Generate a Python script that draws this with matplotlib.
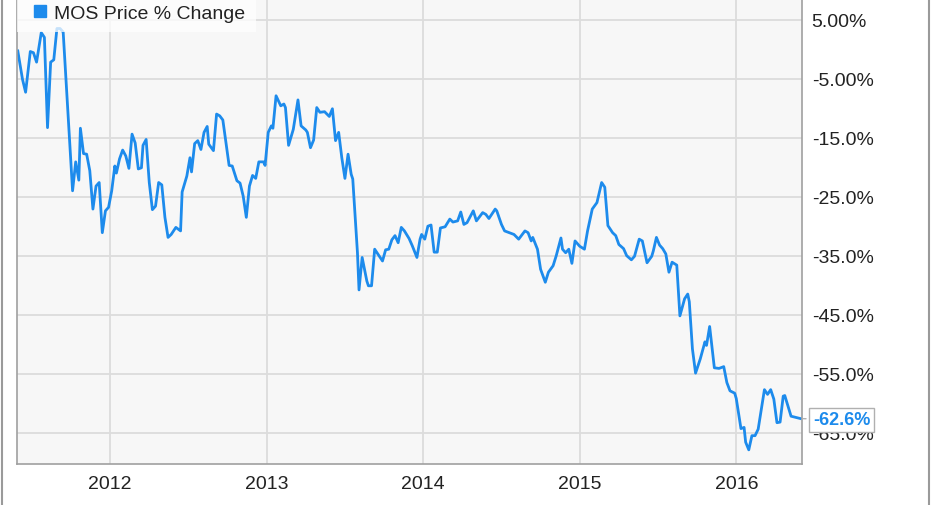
import matplotlib
matplotlib.use("Agg")
import matplotlib.pyplot as plt
from matplotlib.lines import Line2D

plt.rcParams['font.family'] = ['Liberation Sans', 'DejaVu Sans']

# weekly points, x in decimal years, y in % change
years = [
    2011.41, 2011.44, 2011.46, 2011.49, 2011.51, 2011.53, 2011.56, 2011.58, 2011.60, 2011.62,
    2011.64, 2011.66, 2011.68, 2011.70, 2011.76, 2011.78, 2011.80, 2011.81, 2011.83, 2011.85,
    2011.87, 2011.89, 2011.91, 2011.93, 2011.95, 2011.97, 2011.99, 2012.01, 2012.03, 2012.04,
    2012.06, 2012.08, 2012.10, 2012.12, 2012.14, 2012.16, 2012.18, 2012.20, 2012.21, 2012.23,
    2012.25, 2012.27, 2012.29, 2012.31, 2012.33, 2012.35, 2012.37, 2012.39, 2012.42, 2012.45,
    2012.46, 2012.49, 2012.51, 2012.52, 2012.54, 2012.56, 2012.58, 2012.60, 2012.62, 2012.63,
    2012.66, 2012.68, 2012.70, 2012.72, 2012.76, 2012.78, 2012.81, 2012.83, 2012.85, 2012.87,
    2012.89, 2012.91, 2012.93, 2012.95, 2012.98, 2012.99, 2013.01, 2013.03, 2013.04, 2013.06,
    2013.09, 2013.11, 2013.12, 2013.14, 2013.17, 2013.20, 2013.22, 2013.25, 2013.26, 2013.28,
    2013.30, 2013.32, 2013.34, 2013.37, 2013.40, 2013.42, 2013.44, 2013.46, 2013.48, 2013.50,
    2013.52, 2013.54, 2013.55, 2013.58, 2013.59, 2013.61, 2013.64, 2013.65, 2013.67, 2013.69,
    2013.71, 2013.74, 2013.76, 2013.78, 2013.80, 2013.82, 2013.84, 2013.86, 2013.88, 2013.91,
    2013.93, 2013.96, 2013.98, 2013.99, 2014.01, 2014.03, 2014.05, 2014.07, 2014.09, 2014.11,
    2014.14, 2014.17, 2014.19, 2014.22, 2014.24, 2014.26, 2014.28, 2014.32, 2014.34, 2014.38,
    2014.40, 2014.42, 2014.46, 2014.47, 2014.50, 2014.52, 2014.55, 2014.58, 2014.61, 2014.65,
    2014.67, 2014.69, 2014.70, 2014.73, 2014.75, 2014.78, 2014.80, 2014.83, 2014.85, 2014.88,
    2014.89, 2014.91, 2014.93, 2014.95, 2014.97, 2015.00, 2015.03, 2015.05, 2015.08, 2015.11,
    2015.14, 2015.16, 2015.18, 2015.21, 2015.23, 2015.25, 2015.28, 2015.30, 2015.33, 2015.35,
    2015.38, 2015.40, 2015.43, 2015.46, 2015.47, 2015.49, 2015.51, 2015.53, 2015.55, 2015.57,
    2015.59, 2015.62, 2015.64, 2015.67, 2015.69, 2015.70, 2015.72, 2015.74, 2015.77, 2015.80,
    2015.81, 2015.83, 2015.86, 2015.89, 2015.92, 2015.94, 2015.96, 2015.99, 2016.00, 2016.03,
    2016.05, 2016.06, 2016.08, 2016.10, 2016.12, 2016.14, 2016.18, 2016.20, 2016.22, 2016.24,
    2016.26, 2016.28, 2016.30, 2016.31, 2016.35, 2016.38, 2016.41,
]
pct_change = [
    -0.3, -5.1, -7.3, -0.4, -0.6, -2.2, 2.8, 2.0, -13.3, -2.2,
    -1.8, 3.5, 3.5, 2.9, -24.0, -19.1, -22.2, -13.4, -17.7, -17.8,
    -20.6, -27.1, -23.2, -22.6, -31.1, -27.4, -26.8, -24.0, -19.8, -21.0,
    -18.6, -17.1, -18.1, -20.2, -14.4, -15.9, -20.3, -20.1, -16.3, -15.3,
    -22.6, -27.2, -26.6, -22.6, -23.0, -28.5, -31.9, -31.4, -30.2, -30.8,
    -24.2, -21.5, -18.4, -20.8, -16.0, -15.5, -17.0, -14.1, -13.1, -16.1,
    -17.2, -11.0, -11.3, -12.0, -19.7, -19.8, -22.3, -22.7, -24.9, -28.5,
    -23.2, -21.4, -21.9, -19.1, -19.1, -19.7, -14.1, -13.0, -13.4, -7.9,
    -9.6, -9.3, -9.9, -16.3, -13.6, -8.6, -13.0, -13.7, -14.1, -16.7,
    -15.4, -9.9, -10.7, -10.6, -11.4, -10.1, -15.5, -14.1, -18.4, -21.9,
    -17.8, -21.2, -22.0, -34.5, -40.8, -35.3, -39.3, -40.1, -40.1, -33.9,
    -34.7, -35.9, -34.0, -33.9, -32.3, -31.6, -32.8, -30.2, -30.8, -32.1,
    -33.3, -35.3, -32.2, -31.4, -32.2, -30.0, -29.8, -34.4, -34.4, -30.3,
    -30.1, -28.8, -29.3, -29.1, -27.6, -29.7, -29.4, -27.4, -29.1, -27.7,
    -28.0, -28.7, -27.1, -27.4, -29.7, -30.8, -31.1, -31.4, -32.2, -30.8,
    -31.1, -32.5, -31.9, -33.9, -37.3, -39.5, -37.8, -36.7, -35.0, -32.0,
    -33.9, -34.5, -33.9, -36.3, -32.5, -33.4, -33.9, -30.8, -27.1, -26.0,
    -22.6, -23.4, -29.9, -31.1, -31.6, -33.1, -33.8, -35.0, -35.7, -35.1,
    -32.2, -32.5, -36.2, -35.1, -34.2, -31.9, -33.2, -33.8, -34.7, -37.8,
    -36.1, -36.6, -45.2, -42.3, -41.5, -42.8, -50.8, -54.9, -52.5, -49.6,
    -50.2, -47.0, -54.0, -54.1, -53.8, -56.5, -57.9, -58.3, -59.2, -64.3,
    -64.1, -66.6, -67.9, -65.5, -65.5, -64.4, -57.7, -58.5, -57.7, -59.3,
    -63.3, -63.2, -58.8, -58.7, -62.2, -62.4, -62.6,
]

year_ticks = [2012, 2013, 2014, 2015, 2016]
pct_ticks = [5, -5, -15, -25, -35, -45, -55, -65]
pct_labels = ['5.00%', '-5.00%', '-15.0%', '-25.0%', '-35.0%', '-45.0%', '-55.0%', '-65.0%']
series_name = 'MOS Price % Change'
last_label = '-62.6%'

blue = '#1d8bec'
grey = '#a0a0a0'

fig = plt.figure(figsize=(9.31, 5.06), dpi=100)
ax = fig.add_axes([17 / 931, 41 / 506, 785 / 931, 465 / 506])
ax.set_facecolor('#f7f7f7')

ax.plot(years, pct_change, color=blue, lw=2.0, solid_joinstyle='round')

ax.set_xlim(2011.405, 2016.42)
ax.set_ylim(-70.3, 8.5)
ax.set_xticks(year_ticks)
ax.set_xticklabels([str(y) for y in year_ticks])
ax.set_yticks(pct_ticks)
ax.set_yticklabels(pct_labels)
ax.yaxis.tick_right()
ax.tick_params(axis='both', length=0, labelsize=14, colors='#222222')
ax.tick_params(axis='x', pad=8)
ax.tick_params(axis='y', pad=7)

ax.set_axisbelow(True)
ax.grid(True, color='#dcdcdc', lw=1.3)
for side in ['left', 'bottom', 'right']:
    ax.spines[side].set_color(grey)
    ax.spines[side].set_linewidth(1.2)
ax.spines['top'].set_visible(False)

handle = Line2D([], [], marker='s', color=blue, linestyle='None', markersize=9)
leg = ax.legend([handle], [series_name], loc='upper left',
                bbox_to_anchor=(0, 1.012), borderaxespad=0,
                fontsize=14, frameon=True, fancybox=False, handletextpad=0.05,
                borderpad=0.55, handlelength=1.3, labelcolor='#222222')
leg.get_frame().set_facecolor('white')
leg.get_frame().set_alpha(0.75)
leg.get_frame().set_edgecolor('none')

ax.annotate(last_label, xy=(years[-1], pct_change[-1]), xytext=(9, -1),
            textcoords='offset points', ha='left', va='center',
            fontsize=13, fontweight='bold', color=blue,
            bbox=dict(boxstyle='square,pad=0.2', fc='white', ec='#b0b0b0', lw=1),
            arrowprops=dict(arrowstyle='-', color='#b0b0b0', lw=1),
            annotation_clip=False, zorder=5)

# outer frame lines of the picture
fig.add_artist(Line2D([2 / 931, 2 / 931], [0, 1], color='#9a9a9a', lw=1.5))
fig.add_artist(Line2D([929 / 931, 929 / 931], [0, 1], color='#9a9a9a', lw=1.5))

fig.savefig('out.png', dpi=100)
